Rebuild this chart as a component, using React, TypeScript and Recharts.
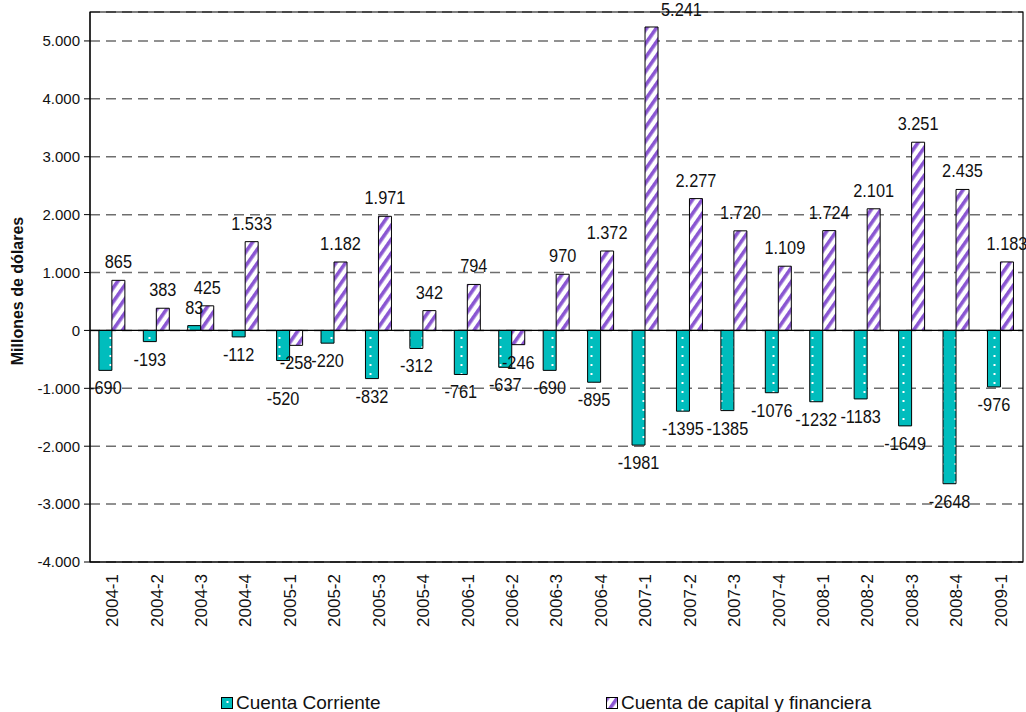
import React from 'react';
import {
    Bar,
    BarChart,
    CartesianGrid,
    LabelList,
    Legend,
    ReferenceArea,
    ReferenceLine,
    XAxis,
    YAxis,
} from 'recharts';

const quarters = [
    '2004-1', '2004-2', '2004-3', '2004-4',
    '2005-1', '2005-2', '2005-3', '2005-4',
    '2006-1', '2006-2', '2006-3', '2006-4',
    '2007-1', '2007-2', '2007-3', '2007-4',
    '2008-1', '2008-2', '2008-3', '2008-4',
    '2009-1',
];

const cuentaCorriente = [
    -690, -193, 83, -112, -520, -220, -832, -312, -761, -637, -690, -895,
    -1981, -1395, -1385, -1076, -1232, -1183, -1649, -2648, -976,
];

const cuentaCapital = [
    865, 383, 425, 1533, -258, 1182, 1971, 342, 794, -246, 970, 1372,
    5241, 2277, 1720, 1109, 1724, 2101, 3251, 2435, 1183,
];

const yTicks = [-4000, -3000, -2000, -1000, 0, 1000, 2000, 3000, 4000, 5000];

const data = quarters.map((q, i) => ({
    quarter: q,
    corriente: cuentaCorriente[i],
    capital: cuentaCapital[i],
}));

const FONT = "'Liberation Sans', Arial, sans-serif";
const TEAL = '#00bdbd';
const PURPLE = '#8a56d2';

// thousands with a dot, as in the original (labels: only for positive values)
const fmtTick = (v: number) => {
    const a = Math.abs(v);
    const s = a >= 1000 ? `${Math.floor(a / 1000)}.${String(a % 1000).padStart(3, '0')}` : String(a);
    return v < 0 ? `-${s}` : s;
};
const fmtLabel = (v: number) => (v < 0 ? String(v) : fmtTick(v));

// narrow-looking text: Arial Narrow is not available, so squeeze horizontally
const NarrowText = ({ x, y, anchor, size, children }: any) => (
    <g transform={`translate(${x},${y}) scale(0.86,1)`}>
        <text x={0} y={0} textAnchor={anchor} fontFamily={FONT} fontSize={size} fill="#111">
            {children}
        </text>
    </g>
);

const BarLabel = (props: any) => {
    const x = Number(props.x);
    const y = Number(props.y);
    const w = Number(props.width);
    const h = Number(props.height);
    const v = Number(props.value);
    const top = Math.min(y, y + h);
    const bottom = Math.max(y, y + h);
    if (v >= 0 && top < 40) {
        // no room above the bar: put it at its right side
        return (
            <NarrowText x={x + w + 3} y={top - 11} anchor="start" size={19}>
                {fmtLabel(v)}
            </NarrowText>
        );
    }
    let ty = v >= 0 ? top - 12 : bottom + 24;
    // both series negative and close: drop the current-account label below the other one
    const i = props.index;
    if (props.series === 'cc' && v < 0 && cuentaCapital[i] < 0 && Math.abs(v - cuentaCapital[i]) < 350) {
        ty += 20;
    }
    return (
        <NarrowText x={x + w / 2} y={ty} anchor="middle" size={19}>
            {fmtLabel(v)}
        </NarrowText>
    );
};

const XTick = (props: any) => {
    const { x, y, payload } = props;
    return (
        <text
            x={x}
            y={y + 4}
            transform={`rotate(-90 ${x} ${y + 4})`}
            textAnchor="end"
            dy="0.35em"
            fontFamily={FONT}
            fontSize={17}
            fill="#111">
            {payload.value}
        </text>
    );
};

const legendItem = (left: number): React.CSSProperties => ({
    position: 'absolute',
    left,
    top: 692,
    whiteSpace: 'nowrap',
    display: 'flex',
    alignItems: 'center',
    lineHeight: '22px',
});

const LegendContent = () => (
    <div style={{ position: 'relative', height: 0, fontFamily: FONT, fontSize: 19, color: '#111' }}>
        <div style={legendItem(221)}>
            <svg width={12} height={12} style={{ marginRight: 3 }}>
                <rect x={0.5} y={0.5} width={11} height={11} fill="url(#dotsTeal)" stroke="#000" />
            </svg>
            Cuenta Corriente
        </div>
        <div style={legendItem(606)}>
            <svg width={12} height={12} style={{ marginRight: 3 }}>
                <rect x={0.5} y={0.5} width={11} height={11} fill="url(#stripesPurple)" stroke="#000" />
            </svg>
            Cuenta de capital y financiera
        </div>
    </div>
);

export default function App() {
    return (
        <div style={{ position: 'absolute', left: 0, top: 0 }}>
            <BarChart
                width={1026}
                height={712}
                data={data}
                barGap={0}
                barCategoryGap="20%"
                margin={{ top: 12, right: 3, left: 0, bottom: 0 }}>
                <defs>
                    <pattern id="dotsTeal" width="13" height="9" patternUnits="userSpaceOnUse">
                        <rect width="13" height="9" fill={TEAL} />
                        <rect x="5.5" y="4" width="2" height="2" fill="#fff" />
                    </pattern>
                    <pattern
                        id="stripesPurple"
                        width="8"
                        height="8"
                        patternUnits="userSpaceOnUse"
                        patternTransform="rotate(35)">
                        <rect width="8" height="8" fill="#fff" />
                        <rect width="3.6" height="8" fill={PURPLE} />
                    </pattern>
                </defs>
                <CartesianGrid vertical={false} stroke="#6e6e6e" strokeWidth={1.5} strokeDasharray="10 6" />
                <XAxis
                    dataKey="quarter"
                    height={150}
                    interval={0}
                    tickLine={false}
                    axisLine={{ stroke: '#000' }}
                    tick={<XTick />}
                />
                <YAxis
                    width={90}
                    domain={[-4000, 5500]}
                    ticks={yTicks}
                    allowDataOverflow
                    tickFormatter={fmtTick}
                    tickSize={6}
                    tickMargin={4}
                    axisLine={{ stroke: '#000' }}
                    tickLine={{ stroke: '#000' }}
                    tick={{ fontFamily: FONT, fontSize: 15, fill: '#111' }}
                    label={{
                        content: () => (
                            <text
                                x={23}
                                y={291}
                                transform="rotate(-90 23 291)"
                                textAnchor="middle"
                                fontFamily={FONT}
                                fontWeight="bold"
                                fontSize={16}
                                fill="#111">
                                Millones de dólares
                            </text>
                        ),
                    }}
                />
                <ReferenceArea y1={-4000} y2={5500} fill="none" stroke="#000" strokeWidth={1.2} />
                <ReferenceLine y={0} stroke="#000" strokeWidth={1.2} />
                <Legend content={<LegendContent />} wrapperStyle={{ left: 0, top: 0, width: 1026 }} />
                <Bar
                    name="Cuenta Corriente"
                    dataKey="corriente"
                    fill="url(#dotsTeal)"
                    stroke="#000"
                    strokeWidth={1}
                    isAnimationActive={false}>
                    <LabelList dataKey="corriente" content={(p: any) => <BarLabel {...p} series="cc" />} />
                </Bar>
                <Bar
                    name="Cuenta de capital y financiera"
                    dataKey="capital"
                    fill="url(#stripesPurple)"
                    stroke="#000"
                    strokeWidth={1}
                    isAnimationActive={false}>
                    <LabelList dataKey="capital" content={(p: any) => <BarLabel {...p} series="cap" />} />
                </Bar>
            </BarChart>
        </div>
    );
}
